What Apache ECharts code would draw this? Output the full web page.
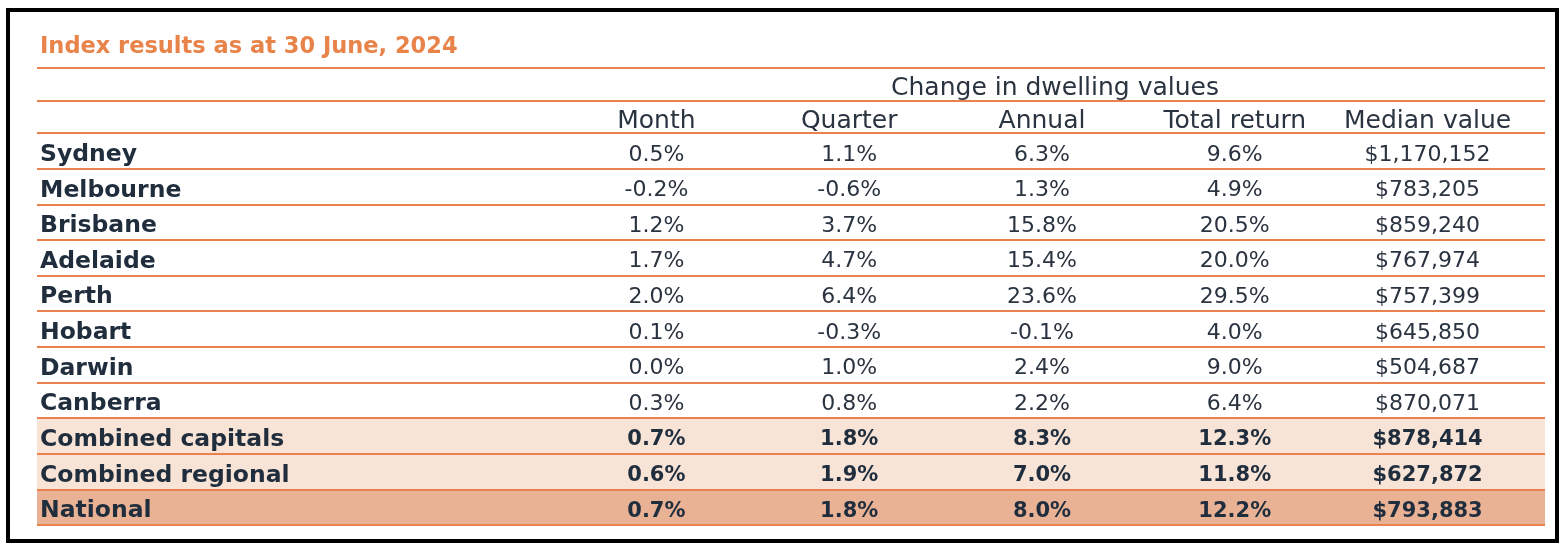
<!DOCTYPE html>
<html><head><meta charset="utf-8">
<script src="https://cdn.jsdelivr.net/npm/echarts@6/dist/echarts.min.js"></script>
<style>html,body{margin:0;padding:0;background:#fff}#c{width:1568px;height:550px}</style>
</head><body><div id="c"></div>
<script>
// ---- data ----
const titleText = 'Index results as at 30 June, 2024';
const groupHeader = 'Change in dwelling values';
const columns = ['Month', 'Quarter', 'Annual', 'Total return', 'Median value'];
const regions = ['Sydney', 'Melbourne', 'Brisbane', 'Adelaide', 'Perth', 'Hobart', 'Darwin', 'Canberra', 'Combined capitals', 'Combined regional', 'National'];
const monthChange = [0.5, -0.2, 1.2, 1.7, 2.0, 0.1, 0.0, 0.3, 0.7, 0.6, 0.7];
const quarterChange = [1.1, -0.6, 3.7, 4.7, 6.4, -0.3, 1.0, 0.8, 1.8, 1.9, 1.8];
const annualChange = [6.3, 1.3, 15.8, 15.4, 23.6, -0.1, 2.4, 2.2, 8.3, 7.0, 8.0];
const totalReturn = [9.6, 4.9, 20.5, 20.0, 29.5, 4.0, 9.0, 6.4, 12.3, 11.8, 12.2];
const medianValue = [1170152, 783205, 859240, 767974, 757399, 645850, 504687, 870071, 878414, 627872, 793883];
const summaryRows = ['Combined capitals', 'Combined regional'];
const nationalRow = 'National';

// ---- build ----
const FONT = '"DejaVu Sans"';
const ORANGE = '#E9824E';
const INK = '#1F2D3D';
const HEAD_INK = '#2A3340';
const valueCols = [monthChange, quarterChange, annualChange, totalReturn, medianValue];
const fmtPct = v => v.toFixed(1) + '%';
const fmtMoney = v => '$' + v.toLocaleString('en-US');
const isBoldRow = r => summaryRows.includes(regions[r]) || regions[r] === nationalRow;

const cells = [];
regions.forEach((name, r) => {
  valueCols.forEach((arr, c) => {
    cells.push([c, r, c === 4 ? fmtMoney(arr[r]) : fmtPct(arr[r])]);
  });
});
const rowLabels = regions.map((name, r) => [0, r, name]);

const shade = regions.map(name =>
  summaryRows.includes(name) ? { value: 1, itemStyle: { color: '#F7E4D7' } } :
  name === nationalRow ? { value: 1, itemStyle: { color: '#EAB295' } } : '-');

const chart = echarts.init(document.getElementById('c'), null, { renderer: 'canvas' });
chart.setOption({
  backgroundColor: '#ffffff',
  animation: false,
  title: {
    text: titleText, left: 40, top: 36, padding: 0,
    textStyle: { fontFamily: FONT, fontSize: 22.5, fontWeight: 'bold', color: '#E8834A' }
  },
  graphic: [{
    type: 'rect', shape: { x: 8, y: 10, width: 1549, height: 531 },
    style: { fill: 'none', stroke: '#000', lineWidth: 4 }, z: 10
  }],
  grid: [
    { left: 37, right: 23, top: 133, height: 392 },
    { left: 560, right: 44, top: 133, height: 392 },
    { left: 37, right: 23, top: 68, height: 65 }
  ],
  xAxis: [
    { gridIndex: 0, type: 'value', min: 0, max: 1, show: false },
    {
      gridIndex: 1, type: 'category', data: columns, position: 'top',
      axisLine: { show: false }, axisTick: { show: false }, splitLine: { show: false },
      axisLabel: { interval: 0, hideOverlap: false, fontFamily: FONT, fontSize: 25, color: HEAD_INK, margin: 12, verticalAlign: 'middle' },
      name: groupHeader, nameLocation: 'middle', nameGap: 45,
      nameTextStyle: { fontFamily: FONT, fontSize: 25, color: HEAD_INK, verticalAlign: 'middle', padding: [0, 0, 0, 26] }
    },
    { gridIndex: 2, type: 'value', min: 0, max: 1, show: false }
  ],
  yAxis: [
    {
      gridIndex: 0, type: 'category', data: regions, inverse: true, z: 5,
      axisLine: { show: false }, axisTick: { show: false }, axisLabel: { show: false },
      splitLine: { show: true, lineStyle: { color: ORANGE, width: 2 } }
    },
    { gridIndex: 1, type: 'category', data: regions, inverse: true, show: false },
    {
      gridIndex: 2, type: 'category', data: ['group', 'columns'], inverse: true, z: 5,
      axisLine: { show: false }, axisTick: { show: false }, axisLabel: { show: false },
      splitLine: { show: true, lineStyle: { color: ORANGE, width: 2 } }
    }
  ],
  series: [
    {
      type: 'bar', xAxisIndex: 0, yAxisIndex: 0, data: shade,
      barWidth: '100%', silent: true, z: 1
    },
    {
      type: 'custom', xAxisIndex: 0, yAxisIndex: 0, data: rowLabels, z: 6,
      renderItem: function (params, api) {
        const item = rowLabels[params.dataIndex];
        const p = api.coord([item[0], item[1]]);
        return {
          type: 'text', x: p[0] + 3, y: p[1] + 4,
          style: {
            text: item[2], textAlign: 'left', textVerticalAlign: 'middle',
            font: 'bold 23.5px ' + FONT, fill: INK
          }
        };
      }
    },
    {
      type: 'custom', xAxisIndex: 1, yAxisIndex: 1, data: cells, z: 6,
      renderItem: function (params, api) {
        const cell = cells[params.dataIndex];
        const p = api.coord([cell[0], cell[1]]);
        const bold = isBoldRow(cell[1]);
        return {
          type: 'text', x: p[0], y: p[1] + 4,
          style: {
            text: cell[2], textAlign: 'center', textVerticalAlign: 'middle',
            font: (bold ? 'bold 21px ' : '22px ') + FONT, fill: bold ? INK : HEAD_INK
          }
        };
      }
    }
  ]
});
</script></body></html>
